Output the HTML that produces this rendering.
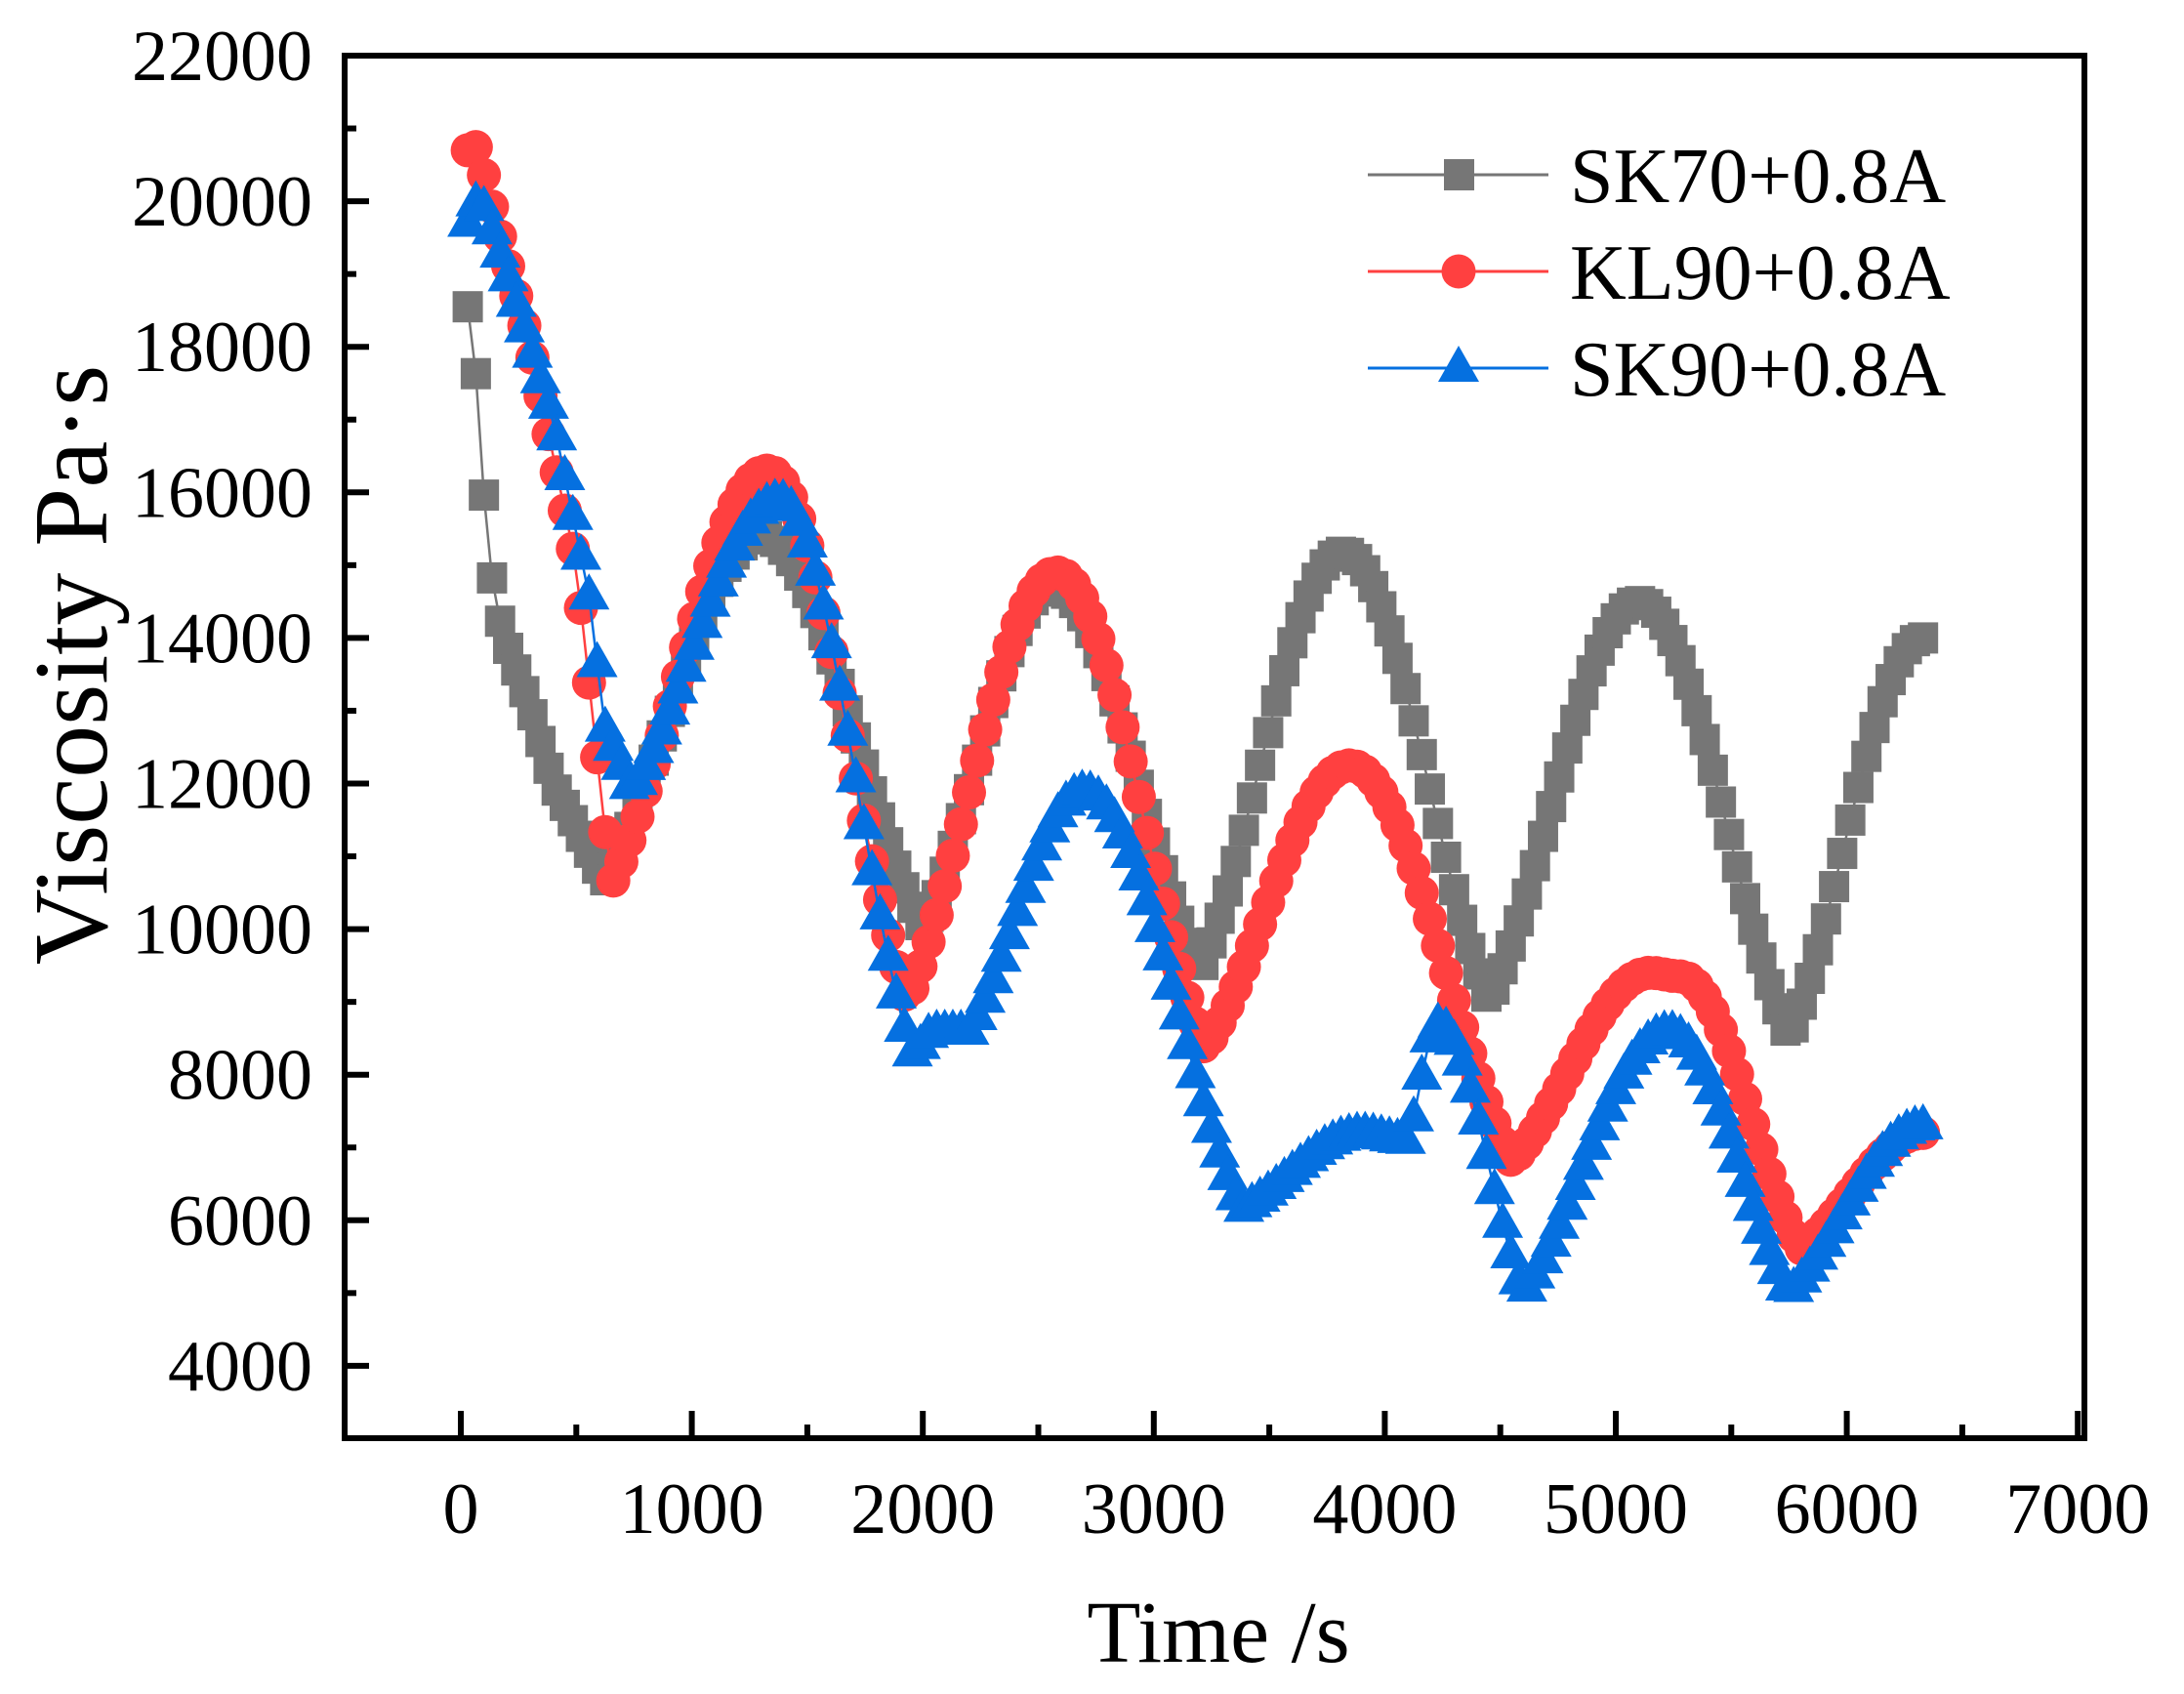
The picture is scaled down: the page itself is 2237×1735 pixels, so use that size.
<!DOCTYPE html>
<html><head><meta charset="utf-8">
<style>html,body{margin:0;padding:0;background:#fff}svg{display:block}</style>
</head><body>
<svg id="s" width="2237" height="1735" xmlns="http://www.w3.org/2000/svg" font-family="'Liberation Serif', serif">
<g id="data"></g>
<rect x="353" y="57" width="1782" height="1416" fill="none" stroke="#000" stroke-width="6"/>
<g id="axes" stroke="#000" stroke-width="6"></g>
<g id="labels" font-size="74" fill="#000"></g>
<text x="1248" y="1702" font-size="90" text-anchor="middle">Time /s</text>
<text transform="translate(84,681) rotate(-90)" font-size="108" text-anchor="middle" dominant-baseline="middle">Viscosity Pa·s</text>
<g>
<line x1="1401" y1="179" x2="1586" y2="179" stroke="#767676" stroke-width="3"/>
<rect x="1479" y="163" width="31" height="32" fill="#767676"/>
<line x1="1401" y1="278" x2="1586" y2="278" stroke="#ff4040" stroke-width="3"/>
<ellipse cx="1494" cy="278" rx="17.5" ry="17.5" fill="#ff4040"/>
<line x1="1401" y1="377" x2="1586" y2="377" stroke="#0570e0" stroke-width="3"/>
<polygon points="1494,354 1515,391 1473,391" fill="#0570e0"/>
<text x="1608" y="207" font-size="80">SK70+0.8A</text>
<text x="1608" y="306" font-size="80">KL90+0.8A</text>
<text x="1608" y="405" font-size="80">SK90+0.8A</text>
</g>
</svg>
<script>
const NS="http://www.w3.org/2000/svg";
const X=t=>472+t*0.2366, Y=v=>57+(22000-v)*0.07455;
const ax=document.getElementById('axes'), lb=document.getElementById('labels'), dg=document.getElementById('data');
function el(tag,attrs,parent,txt){const e=document.createElementNS(NS,tag);for(const k in attrs)e.setAttribute(k,attrs[k]);if(txt!==undefined)e.textContent=txt;parent.appendChild(e);return e;}
for(let t=0;t<=7000;t+=500){const x=X(t);const maj=t%1000==0;el('line',{x1:x,y1:1473,x2:x,y2:1473-(maj?28:14)},ax);
 if(maj)el('text',{x:x,y:1570,'text-anchor':'middle'},lb,String(t));}
for(let v=4000;v<=22000;v+=1000){const y=Y(v);const maj=v%2000==0;el('line',{x1:353,y1:y,x2:353+(maj?25:12),y2:y},ax);
 if(maj)el('text',{x:320,y:y+25,'text-anchor':'end'},lb,String(v));}
function interp(k,t){for(let i=0;i<k.length-1;i++){const[a,va]=k[i],[b,vb]=k[i+1];if(t>=a&&t<=b){const f=(t-a)/(b-a);let g;
 const c=(1-Math.cos(Math.PI*f))/2;
 if(Math.abs(vb-va)<500)g=c; else if(vb<va)g=0.5*c+0.5*(1-Math.cos(Math.PI*f/2)); else g=0.5*c+0.5*Math.sin(Math.PI*f/2);
 return va+(vb-va)*g;}}return k[k.length-1][1];}
function lin(k,t){for(let i=0;i<k.length-1;i++){const[a,va]=k[i],[b,vb]=k[i+1];if(t>=a&&t<=b){return va+(vb-va)*(t-a)/(b-a);}}return k[k.length-1][1];}
const gray=[[30,18550],[70,17500],[110,15450],[150,14450],[200,13900],[300,13050],[400,12000],[500,11400],[620,10650],[1300,15400],[2000,10000],[2560,14700],[3200,9400],[3820,15180],[4450,9000],[5100,14500],[5750,8500],[6330,14000]];
const red=[[30,20700],[70,20750],[120,20100],[300,18000],[500,15000],[650,10600],[1330,16300],[1930,9000],[2580,14900],[3220,8350],[3850,12250],[4550,6800],[5150,9400],[5280,9350],[5800,5600],[6330,7200]];
const blue=[[30,19700],[80,20100],[200,19000],[400,17000],[560,14500],[620,12800],[740,11900],[1380,15900],[1950,8300],[2050,8600],[2200,8600],[2700,11900],[3380,6150],[3900,7200],[4100,7100],[4230,8700],[4600,5000],[5230,8600],[5750,5000],[6330,7300]];
function series(k,col,mk,f){const pts=[];for(let t=30;t<=6330;t+=35){const v=f(t);pts.push([X(t),Y(v)]);}
 el('polyline',{points:pts.map(p=>p.join(',')).join(' '),fill:'none',stroke:col,'stroke-width':2.5},dg);
 for(const[x,y]of pts){if(mk=='s')el('rect',{x:x-15.5,y:y-16,width:31,height:32,fill:col},dg);
  else if(mk=='c')el('circle',{cx:x,cy:y,r:17.5,fill:col},dg);
  else el('polygon',{points:`${x},${y-23} ${x+21},${y+14} ${x-21},${y+14}`,fill:col},dg);}}
series(gray,'#767676','s',t=>t<620?lin(gray,t):interp(gray,t));
series(red,'#ff4040','c',t=>t<650?lin(red,t):interp(red,t));
series(blue,'#0570e0','t',t=>t<740?lin(blue,t):interp(blue,t));
</script>
</body></html>
